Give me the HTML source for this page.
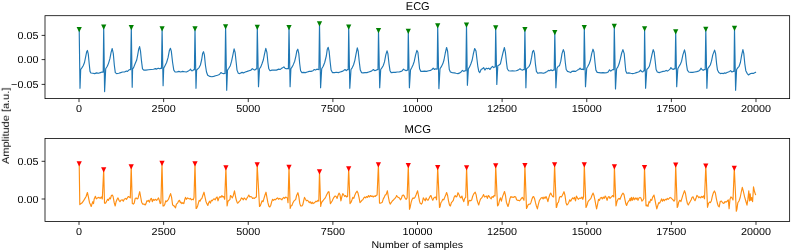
<!DOCTYPE html><html><head><meta charset="utf-8"><style>html,body{margin:0;padding:0;background:#fff;}svg{display:block;}text{font-family:"Liberation Sans",sans-serif;fill:#000;}</style></head><body>
<svg width="792" height="252" viewBox="0 0 792 252">
<rect width="792" height="252" fill="#fff"/>
<polyline fill="none" stroke="#1f77b4" stroke-width="1.15" stroke-linejoin="round" stroke-linecap="butt" points="79.20,29.60 80.00,88.30 80.70,69.50 82.00,67.60 83.20,65.70 84.50,62.50 85.80,56.10 86.70,51.70 87.40,50.40 88.30,54.20 89.20,63.80 90.00,71.40 90.90,73.00 92.80,73.30 94.70,73.60 96.60,72.90 98.50,73.30 100.40,72.60 102.00,72.00 103.20,72.20 103.70,27.10 104.60,91.60 105.70,68.80 107.30,66.30 108.60,63.10 109.90,58.70 111.10,52.30 112.20,48.50 113.30,53.60 114.30,65.00 115.30,72.60 116.60,73.60 118.80,73.30 120.70,72.60 122.60,72.00 124.50,72.00 126.40,71.10 127.50,71.40 128.80,70.10 130.10,69.50 130.60,69.60 131.30,27.60 132.20,87.30 132.60,69.00 133.60,67.60 135.10,63.80 136.70,60.00 137.70,54.90 138.70,49.20 139.60,46.60 140.50,51.10 141.50,61.20 142.50,68.80 143.80,70.10 145.90,70.10 148.50,69.80 151.00,69.50 153.50,69.20 155.40,68.60 156.70,69.10 158.20,68.20 159.90,68.80 160.90,68.20 161.50,68.40 162.10,28.90 163.10,85.70 163.70,68.20 165.00,65.70 166.60,62.50 168.10,57.40 169.40,50.40 170.40,48.30 171.30,51.10 172.60,62.50 173.80,70.10 175.10,72.00 176.90,72.00 178.80,71.40 180.70,72.00 182.60,71.40 184.50,71.70 186.40,72.00 188.30,71.10 189.60,70.10 190.50,69.10 191.50,70.70 192.80,70.70 193.80,69.50 194.40,69.80 195.00,28.90 196.00,88.30 196.60,70.10 197.80,68.80 199.10,67.60 200.40,65.00 201.60,60.00 202.60,53.60 203.50,51.70 204.40,54.90 205.40,65.00 206.50,72.00 207.70,75.20 209.90,76.40 211.80,76.70 213.70,76.40 215.60,75.80 217.50,75.20 219.40,74.50 220.90,72.60 222.20,73.30 223.40,73.60 225.00,73.40 225.60,26.80 226.70,90.30 227.50,70.10 228.80,68.20 230.30,65.70 231.60,61.20 232.90,54.90 234.10,48.80 235.10,52.30 236.20,62.50 237.00,70.10 238.30,73.30 239.60,73.60 240.90,72.90 242.10,72.40 243.40,72.90 245.30,72.00 247.20,71.40 249.10,70.70 251.00,70.10 252.30,68.60 253.50,69.50 254.80,70.10 256.10,68.80 256.80,69.00 257.30,27.30 258.50,86.70 259.50,68.80 260.80,66.90 262.00,63.80 263.30,60.00 264.60,53.60 265.80,48.30 266.90,52.30 267.90,62.50 268.80,68.80 270.00,70.70 271.90,70.10 273.80,70.10 276.40,70.10 278.80,69.10 280.10,69.50 281.30,68.60 282.60,67.80 283.90,66.90 284.90,68.20 286.20,68.80 287.40,68.60 288.40,68.80 289.00,27.60 290.10,86.70 290.90,68.80 292.10,66.90 293.40,64.40 294.70,61.20 295.90,56.10 296.80,51.10 297.80,49.20 298.80,53.60 299.70,63.80 300.60,70.70 301.90,72.60 303.50,72.40 305.40,72.60 307.30,72.00 309.20,71.40 311.10,71.40 313.00,70.70 314.30,69.50 315.60,70.10 316.90,69.10 318.10,69.50 318.90,69.60 319.50,23.90 320.60,87.80 321.70,68.80 323.20,66.30 324.70,62.50 326.30,56.00 327.30,49.20 328.20,47.30 329.10,51.10 330.10,61.20 331.10,70.10 332.40,72.60 334.50,72.60 336.40,72.30 338.30,72.60 340.20,72.00 342.10,71.40 343.80,70.40 345.00,69.50 346.30,70.70 347.60,69.50 348.20,69.70 348.70,27.10 349.80,88.30 351.00,69.50 352.30,67.60 353.50,65.00 354.80,60.60 356.10,53.60 357.30,47.90 358.20,51.10 359.20,61.20 360.30,70.10 361.50,72.60 363.00,72.90 365.00,72.60 366.90,72.60 368.80,72.00 370.70,71.40 372.20,70.40 373.40,69.50 374.70,70.70 376.40,70.10 377.50,69.50 378.00,69.60 378.50,30.60 379.70,87.80 380.70,69.50 382.00,67.60 383.20,65.70 384.50,61.90 385.80,54.90 387.00,50.80 387.90,53.60 389.00,63.80 390.00,70.70 391.20,72.60 393.40,72.40 395.30,72.40 397.20,72.00 399.10,72.00 401.00,71.40 402.30,70.70 403.50,69.10 404.80,70.10 406.10,70.70 407.30,70.10 407.80,70.20 408.30,31.30 409.40,87.80 410.50,70.10 411.80,67.60 413.00,65.00 414.30,61.20 415.60,54.90 416.90,50.40 417.90,52.30 418.80,61.20 419.60,68.80 420.90,71.40 422.60,71.40 424.50,71.10 426.40,71.40 428.80,70.70 430.70,70.40 432.00,69.50 433.20,68.20 434.50,69.50 435.80,68.80 436.70,69.10 437.20,69.20 437.70,25.90 438.90,88.60 440.00,68.80 441.20,66.90 442.80,63.80 444.00,60.00 445.30,53.00 446.60,47.50 447.60,51.10 448.50,61.20 449.30,69.50 450.40,72.00 452.30,72.60 454.20,72.90 456.10,73.30 458.00,73.60 459.90,72.90 461.10,72.00 462.40,70.40 463.70,71.40 465.00,70.70 465.90,70.80 466.50,25.10 467.40,85.30 468.40,68.80 469.60,66.90 470.90,63.80 472.20,60.00 473.40,53.60 474.70,48.50 476.00,51.10 476.90,58.70 477.80,66.30 478.80,71.40 479.80,72.60 481.10,69.50 482.40,68.80 483.60,67.60 484.90,70.10 486.20,68.20 487.40,68.80 488.70,68.20 490.00,69.50 491.20,67.60 492.50,66.30 493.80,67.60 494.70,66.90 495.20,67.00 495.70,27.90 496.80,84.50 497.80,65.70 499.10,65.00 500.40,63.80 501.60,58.70 502.90,53.00 504.40,47.50 505.40,52.30 506.50,62.50 507.30,68.80 508.60,70.70 510.50,71.00 512.40,70.70 514.30,71.00 516.20,70.70 518.10,70.10 520.00,68.80 521.30,69.80 522.60,70.10 523.40,69.50 524.30,69.60 524.90,29.60 525.90,87.80 526.50,68.80 527.80,67.60 529.10,66.30 530.30,63.80 531.60,57.40 532.60,51.70 533.60,50.40 534.50,53.60 535.40,63.80 536.40,71.40 537.70,73.30 539.60,72.90 541.50,72.90 543.40,73.30 545.30,72.60 547.20,71.40 548.50,70.40 549.70,70.70 551.00,69.80 552.30,70.70 553.50,70.10 554.20,70.20 554.80,32.60 555.90,87.80 557.00,68.20 558.20,66.30 559.50,65.70 560.80,61.20 562.00,53.60 563.30,49.60 564.30,52.30 565.30,62.50 566.20,69.50 567.50,71.40 569.40,72.00 570.70,72.60 571.90,71.40 573.80,71.10 575.70,71.40 577.50,70.10 578.80,69.50 580.10,68.20 581.10,69.50 582.40,69.10 583.20,69.50 583.80,69.60 584.30,27.60 585.50,86.70 586.70,68.20 587.90,66.30 589.20,63.80 590.50,60.00 591.70,53.60 593.00,49.20 594.00,52.30 595.00,62.50 595.90,70.10 597.20,72.40 599.10,72.60 601.00,72.90 602.90,72.60 604.80,72.90 606.70,72.60 608.20,72.00 609.50,69.80 610.80,71.10 612.00,70.10 613.00,69.50 613.80,69.60 614.30,26.30 615.50,89.00 616.60,68.80 617.90,66.90 619.10,63.80 620.40,58.70 621.70,53.00 622.90,49.60 624.20,53.60 625.10,63.80 625.80,71.00 626.90,73.30 628.80,72.90 630.70,73.30 632.60,73.60 634.50,73.30 636.40,72.60 638.30,72.00 639.60,71.40 640.50,70.10 641.50,71.40 642.80,72.00 643.80,70.70 644.20,70.80 644.60,28.90 645.60,88.30 646.80,69.50 648.10,68.20 649.30,66.30 650.60,61.20 651.90,54.90 653.20,49.60 654.20,52.30 655.20,61.20 656.10,69.50 657.30,72.00 659.20,72.60 661.10,72.00 663.00,71.40 665.00,71.10 666.20,70.40 667.50,71.10 668.80,70.10 670.00,69.10 670.90,67.60 671.90,68.80 673.20,69.50 674.20,68.80 675.10,69.00 675.70,31.80 676.70,86.70 677.80,68.80 679.10,66.30 680.30,64.40 681.60,61.20 682.90,54.90 684.50,49.80 685.40,53.60 686.40,63.80 687.40,70.10 688.70,72.00 690.90,72.40 692.80,72.40 694.70,72.00 696.60,71.60 698.50,71.10 699.70,70.40 701.00,68.20 701.90,69.50 703.20,70.40 704.20,69.50 705.20,69.60 705.80,29.40 706.90,88.30 707.70,68.80 709.00,66.90 710.30,65.00 711.50,61.20 712.80,54.90 714.60,50.10 715.60,53.60 716.60,63.80 717.50,70.10 718.80,72.60 720.40,73.60 721.90,73.30 723.30,73.60 724.50,72.90 725.80,73.30 727.10,72.40 728.30,72.00 729.60,71.40 730.60,70.70 731.90,72.00 733.20,71.40 734.00,71.50 734.50,28.40 735.60,90.30 736.60,69.50 737.90,67.60 739.10,66.30 740.40,62.50 741.70,54.90 742.90,49.60 743.80,53.60 744.80,63.80 745.80,70.70 747.10,73.30 748.40,74.90 749.90,73.90 751.80,73.30 753.70,73.30 755.20,72.60 756.00,72.00"/>
<polyline fill="none" stroke="#fe8e12" stroke-width="1.15" stroke-linejoin="round" stroke-linecap="butt" points="79.20,163.90 79.80,204.60 80.40,204.10 81.90,203.10 83.30,201.20 84.70,198.90 86.10,196.50 87.40,192.50 88.50,197.40 89.50,202.70 90.20,204.10 91.20,206.50 92.10,203.60 92.80,201.70 93.50,203.60 94.20,198.90 95.40,196.30 96.30,198.90 97.60,197.90 99.00,197.40 100.10,198.40 101.40,197.00 102.30,198.90 103.70,169.80 104.50,203.10 105.70,203.10 106.60,201.20 107.60,199.30 108.50,200.30 109.50,197.90 110.40,198.90 111.40,195.50 112.30,195.00 113.10,196.50 114.20,202.70 115.20,206.00 116.10,201.70 117.10,199.30 118.00,197.90 119.00,200.30 120.00,201.70 120.90,200.30 122.30,199.80 123.30,201.20 124.20,199.30 125.70,198.40 126.60,199.30 127.60,197.40 128.50,196.50 129.50,197.20 130.30,197.90 131.20,166.80 132.30,203.60 133.30,204.10 134.20,203.10 135.20,198.40 136.10,197.90 137.10,198.90 138.00,198.40 139.70,191.70 140.60,196.50 141.60,202.20 142.80,204.10 144.20,204.10 145.20,205.00 146.00,203.60 146.90,200.80 147.90,201.20 148.50,200.30 149.50,202.20 150.40,199.30 151.40,198.40 152.30,201.70 153.30,199.30 154.20,200.30 155.20,199.30 156.60,200.30 157.60,199.30 158.50,197.90 159.30,200.30 160.20,203.60 160.90,203.10 162.00,163.40 163.00,206.00 163.80,206.00 164.70,204.60 165.70,200.80 166.60,201.70 167.60,200.30 168.50,199.30 169.50,196.50 170.60,193.60 171.60,197.40 172.60,205.00 173.60,205.50 174.50,206.50 175.50,207.90 176.40,204.10 177.60,203.10 178.50,201.20 179.50,200.30 180.40,202.70 180.90,202.20 181.90,203.60 182.80,202.70 183.80,203.60 184.70,199.80 185.50,197.40 186.40,199.30 187.60,197.90 188.50,198.40 189.50,198.90 190.40,198.40 191.40,199.80 192.30,199.30 193.30,199.80 194.00,197.40 195.00,163.90 196.10,208.40 196.60,208.40 197.60,206.00 198.50,202.70 199.20,200.30 200.00,201.20 200.90,199.30 201.90,198.40 202.80,195.50 204.00,192.20 204.90,196.50 205.90,201.20 206.80,203.60 207.80,205.50 208.70,202.70 209.50,201.20 210.40,203.10 211.40,200.30 212.30,200.80 213.30,199.30 214.20,198.90 215.20,199.80 216.10,197.90 217.10,197.00 218.00,200.80 219.00,197.90 220.00,196.50 220.90,197.40 221.90,195.50 222.80,197.00 223.80,196.50 224.70,199.30 225.90,167.90 227.10,206.00 228.00,201.20 229.00,200.30 230.00,199.30 230.40,195.50 231.40,196.50 232.30,197.90 233.30,195.50 234.50,190.80 235.50,196.50 236.40,200.30 237.40,203.10 238.30,202.70 239.50,201.20 240.40,200.30 241.40,197.90 242.30,198.40 243.30,199.80 244.20,197.90 245.20,198.90 246.10,199.80 247.10,197.90 248.00,196.50 248.80,195.00 249.80,197.00 250.70,196.50 251.70,197.00 252.60,198.40 253.60,197.90 254.50,198.40 255.50,197.40 256.40,197.00 257.20,164.80 259.50,206.50 260.40,205.50 261.40,202.70 262.10,200.80 263.10,201.70 264.00,198.40 265.00,195.00 266.00,192.20 266.90,197.40 267.90,202.70 268.80,206.00 269.80,207.00 270.70,205.50 271.70,201.70 272.60,199.30 273.60,200.30 274.50,199.30 275.70,199.80 276.60,198.40 277.60,197.90 278.50,199.30 279.50,198.40 280.40,198.90 280.90,198.90 281.90,199.80 282.80,198.40 283.80,197.40 284.70,198.40 285.70,197.00 286.40,197.40 287.40,197.90 288.00,202.70 289.00,167.30 290.20,208.40 290.90,206.00 291.90,205.50 292.80,203.10 293.80,201.20 294.70,200.30 295.70,199.30 296.60,195.50 297.90,192.70 298.80,196.50 299.80,203.60 300.70,206.00 301.90,206.00 302.80,204.60 303.60,201.20 304.50,197.40 305.50,199.30 306.40,200.80 307.40,200.30 308.30,201.20 309.30,202.70 310.20,201.70 311.20,203.60 312.10,202.20 313.10,203.60 314.00,203.10 315.00,202.20 316.00,201.20 316.90,201.70 317.90,200.30 318.80,201.20 319.50,171.80 320.70,206.50 321.10,204.10 322.00,201.70 323.00,200.80 324.00,199.30 324.90,198.40 325.90,196.50 326.80,194.60 328.30,191.70 329.00,191.90 329.80,198.40 330.40,203.60 331.40,202.20 332.30,200.80 333.30,198.40 334.20,197.00 335.20,196.00 336.10,196.50 337.10,198.40 338.00,195.50 339.00,193.10 340.00,194.60 340.90,200.80 341.90,196.50 342.80,193.60 343.80,195.00 344.70,196.50 345.70,195.50 346.60,197.00 347.60,196.50 348.70,168.80 350.00,203.60 351.10,202.20 352.00,199.80 352.80,197.40 353.80,198.40 354.70,195.50 355.70,193.10 357.10,191.20 358.00,193.10 359.00,197.40 360.00,202.70 360.90,201.70 361.90,200.30 362.80,199.80 363.80,197.90 364.70,197.00 365.70,197.90 366.60,196.50 367.60,197.40 368.50,195.50 369.50,197.00 370.40,195.50 371.40,196.50 372.30,196.00 373.30,197.00 374.20,196.00 375.20,196.50 376.10,195.50 377.10,195.00 378.40,164.80 379.50,203.10 380.40,203.10 381.40,202.70 382.30,202.20 383.30,198.90 384.20,197.40 385.20,195.00 386.10,194.60 387.40,190.80 388.30,196.50 389.30,201.70 390.20,204.10 391.20,202.70 392.10,201.20 393.10,200.30 394.00,199.30 395.00,198.40 396.00,197.00 396.60,195.50 397.60,197.00 398.50,197.40 399.50,197.90 400.40,199.80 401.40,198.40 402.30,195.50 403.30,195.00 404.20,196.00 405.20,198.40 406.10,199.30 407.10,197.90 408.30,165.60 409.50,209.30 410.20,207.00 411.20,202.20 412.10,199.30 413.10,197.90 414.00,198.40 415.00,197.40 416.00,195.00 417.60,190.80 418.50,195.50 419.50,201.20 420.40,203.60 421.40,204.10 422.30,202.70 423.30,197.90 424.20,199.30 425.20,200.80 426.10,197.90 427.10,199.80 428.00,200.30 429.00,198.40 430.00,196.50 430.90,195.50 431.90,198.40 432.80,200.30 433.80,197.90 434.70,197.40 435.70,197.00 436.60,199.80 437.70,167.60 439.50,207.40 440.00,207.00 440.90,202.70 441.90,201.20 442.80,199.30 443.80,199.80 444.70,197.40 445.70,195.00 446.60,192.50 447.60,195.50 448.50,200.80 449.50,205.00 450.40,206.00 451.40,202.70 452.30,201.70 453.30,200.30 454.20,197.00 455.20,195.50 456.10,197.00 457.10,196.00 458.00,192.70 459.00,194.60 460.00,197.00 460.90,197.90 461.90,196.00 462.80,199.30 463.80,201.70 464.70,198.40 465.70,197.40 466.60,167.90 468.00,205.50 468.80,201.20 469.80,200.30 470.70,200.80 471.70,199.80 472.60,196.50 473.60,194.10 475.20,192.20 476.10,194.60 477.10,200.30 478.00,203.10 478.70,205.00 479.50,202.20 480.40,199.30 480.70,198.90 481.70,197.90 482.60,196.50 483.60,194.60 484.50,197.00 485.50,196.50 486.40,196.00 487.40,198.40 488.30,195.50 489.30,196.50 490.20,197.90 491.20,198.90 492.10,196.50 493.10,197.40 494.00,195.50 495.00,196.00 495.70,165.90 497.50,205.50 497.60,206.00 498.50,204.60 499.50,200.30 500.40,197.90 501.40,201.20 502.30,197.40 503.30,194.60 504.50,191.50 505.50,195.50 506.40,202.20 507.40,205.00 508.00,206.50 509.00,203.10 510.00,198.40 510.90,196.50 511.90,197.40 512.80,197.00 513.80,197.40 514.70,196.50 515.70,197.00 516.60,199.80 517.60,200.30 518.50,200.30 519.50,200.80 520.40,199.80 521.40,198.40 522.30,197.40 523.30,198.90 524.00,200.30 524.90,165.60 526.50,208.40 527.10,207.40 528.00,205.00 529.00,204.10 530.00,204.20 530.90,202.70 531.90,199.30 532.80,197.00 533.60,196.50 534.50,198.40 535.50,202.70 536.40,206.00 537.40,208.90 538.30,204.60 539.30,200.80 540.20,199.30 541.20,197.90 542.10,197.40 543.10,198.90 544.00,197.00 545.00,198.40 546.00,196.50 546.90,198.40 547.90,201.70 548.80,197.90 549.80,194.60 550.70,193.10 551.70,195.00 552.60,196.50 553.60,197.00 554.60,164.80 556.30,207.40 556.60,207.40 557.60,203.10 558.50,202.20 559.50,197.40 560.40,196.50 561.40,197.00 562.30,195.50 564.00,191.70 565.00,195.50 566.00,202.70 566.90,205.00 567.90,204.10 568.80,202.20 569.80,199.80 570.70,201.20 571.70,199.30 572.60,197.90 573.60,198.90 574.50,197.40 575.50,200.80 576.40,196.00 577.40,197.90 578.30,199.30 579.30,198.40 580.00,197.90 580.90,198.40 581.90,197.00 582.80,199.30 583.60,196.50 584.30,164.80 586.00,207.40 587.10,205.00 588.00,201.70 589.00,200.30 590.00,199.30 590.90,198.40 591.90,195.50 593.10,193.10 594.00,195.50 595.00,200.30 596.00,206.00 596.60,208.90 597.60,204.10 598.50,199.30 599.50,200.30 600.40,197.90 601.40,197.40 602.30,198.90 603.30,197.00 604.20,198.40 605.20,196.00 606.10,197.40 607.10,200.30 608.00,197.40 609.00,196.50 610.00,198.40 610.90,197.40 611.90,196.50 612.80,195.50 613.80,197.00 614.40,166.80 616.00,206.00 616.10,205.50 617.10,201.20 618.00,199.30 619.00,198.40 620.00,199.30 620.90,197.00 621.90,194.60 623.00,193.10 624.00,194.60 624.90,199.30 625.90,204.10 626.60,205.50 627.60,202.70 628.50,201.20 629.50,200.30 630.00,198.40 630.70,200.80 631.40,197.40 632.30,200.30 633.30,197.40 634.20,199.80 635.20,197.90 636.10,199.30 637.10,197.90 638.00,200.30 639.00,197.90 640.00,197.40 640.90,197.90 641.90,201.20 642.80,200.30 643.80,198.40 644.50,167.60 646.00,205.50 646.10,206.00 647.10,205.00 648.00,206.50 649.00,201.70 649.80,202.70 650.70,199.30 651.70,200.30 652.60,197.40 654.00,195.00 654.90,199.30 655.90,204.60 656.80,208.90 657.80,205.50 658.70,202.70 659.70,203.10 660.60,201.20 661.60,198.90 662.50,201.20 663.50,199.30 664.40,200.80 665.40,199.30 666.30,199.80 667.30,198.40 668.20,199.30 669.20,198.40 670.10,197.40 671.10,197.90 672.00,198.90 673.00,199.80 674.00,201.20 674.90,199.80 675.70,165.10 677.20,207.40 677.80,206.50 678.70,202.20 679.70,200.30 680.60,200.80 680.90,201.60 681.90,198.30 682.80,195.40 683.80,192.60 684.50,190.70 685.50,193.50 686.40,199.20 687.40,203.50 688.30,205.00 689.30,203.00 690.20,201.60 691.20,199.70 692.10,197.30 693.10,196.90 694.00,199.20 695.00,200.70 696.00,198.30 696.90,195.40 697.90,196.40 698.80,197.80 699.80,196.90 700.70,197.80 701.70,196.40 702.60,197.30 703.60,195.90 704.50,198.80 705.80,166.10 707.50,207.30 707.60,206.90 708.50,203.50 709.50,202.10 710.40,202.60 711.40,200.70 712.30,196.40 713.30,193.00 714.40,190.90 715.40,193.00 716.30,198.30 717.30,203.00 718.20,205.90 719.20,206.90 720.20,201.60 721.40,201.00 722.60,202.80 723.80,203.40 725.00,201.60 726.10,202.20 727.30,201.00 728.30,199.90 729.10,208.80 730.00,199.30 730.90,196.90 732.10,198.10 733.00,199.90 734.30,168.30 736.30,211.20 736.90,209.40 737.80,202.80 739.00,201.00 740.20,197.50 741.40,191.50 742.30,187.40 743.40,191.50 744.60,196.90 745.80,201.00 747.00,205.20 747.80,199.90 748.80,190.90 749.50,201.00 750.20,193.90 750.90,200.50 751.70,197.50 752.60,201.60 753.50,186.80 754.50,191.50 755.70,195.10"/>
<polygon fill="#008000" points="76.60,27.00 81.80,27.00 79.20,32.20"/>
<polygon fill="#008000" points="101.10,24.50 106.30,24.50 103.70,29.70"/>
<polygon fill="#008000" points="128.70,25.00 133.90,25.00 131.30,30.20"/>
<polygon fill="#008000" points="159.50,26.30 164.70,26.30 162.10,31.50"/>
<polygon fill="#008000" points="192.40,26.30 197.60,26.30 195.00,31.50"/>
<polygon fill="#008000" points="223.00,24.20 228.20,24.20 225.60,29.40"/>
<polygon fill="#008000" points="254.70,24.70 259.90,24.70 257.30,29.90"/>
<polygon fill="#008000" points="286.40,25.00 291.60,25.00 289.00,30.20"/>
<polygon fill="#008000" points="316.90,21.30 322.10,21.30 319.50,26.50"/>
<polygon fill="#008000" points="346.10,24.50 351.30,24.50 348.70,29.70"/>
<polygon fill="#008000" points="375.90,28.00 381.10,28.00 378.50,33.20"/>
<polygon fill="#008000" points="405.70,28.70 410.90,28.70 408.30,33.90"/>
<polygon fill="#008000" points="435.10,23.30 440.30,23.30 437.70,28.50"/>
<polygon fill="#008000" points="463.90,22.50 469.10,22.50 466.50,27.70"/>
<polygon fill="#008000" points="493.10,25.30 498.30,25.30 495.70,30.50"/>
<polygon fill="#008000" points="522.30,27.00 527.50,27.00 524.90,32.20"/>
<polygon fill="#008000" points="552.20,30.00 557.40,30.00 554.80,35.20"/>
<polygon fill="#008000" points="581.70,25.00 586.90,25.00 584.30,30.20"/>
<polygon fill="#008000" points="611.70,23.70 616.90,23.70 614.30,28.90"/>
<polygon fill="#008000" points="642.00,26.30 647.20,26.30 644.60,31.50"/>
<polygon fill="#008000" points="673.10,29.20 678.30,29.20 675.70,34.40"/>
<polygon fill="#008000" points="703.20,26.80 708.40,26.80 705.80,32.00"/>
<polygon fill="#008000" points="731.90,25.80 737.10,25.80 734.50,31.00"/>
<polygon fill="#ff0000" points="76.60,161.30 81.80,161.30 79.20,166.50"/>
<polygon fill="#ff0000" points="101.10,167.20 106.30,167.20 103.70,172.40"/>
<polygon fill="#ff0000" points="128.60,164.20 133.80,164.20 131.20,169.40"/>
<polygon fill="#ff0000" points="159.40,160.80 164.60,160.80 162.00,166.00"/>
<polygon fill="#ff0000" points="192.40,161.30 197.60,161.30 195.00,166.50"/>
<polygon fill="#ff0000" points="223.30,165.30 228.50,165.30 225.90,170.50"/>
<polygon fill="#ff0000" points="254.60,162.20 259.80,162.20 257.20,167.40"/>
<polygon fill="#ff0000" points="286.40,164.70 291.60,164.70 289.00,169.90"/>
<polygon fill="#ff0000" points="316.90,169.20 322.10,169.20 319.50,174.40"/>
<polygon fill="#ff0000" points="346.10,166.20 351.30,166.20 348.70,171.40"/>
<polygon fill="#ff0000" points="375.80,162.20 381.00,162.20 378.40,167.40"/>
<polygon fill="#ff0000" points="405.70,163.00 410.90,163.00 408.30,168.20"/>
<polygon fill="#ff0000" points="435.10,165.00 440.30,165.00 437.70,170.20"/>
<polygon fill="#ff0000" points="464.00,165.30 469.20,165.30 466.60,170.50"/>
<polygon fill="#ff0000" points="493.10,163.30 498.30,163.30 495.70,168.50"/>
<polygon fill="#ff0000" points="522.30,163.00 527.50,163.00 524.90,168.20"/>
<polygon fill="#ff0000" points="552.00,162.20 557.20,162.20 554.60,167.40"/>
<polygon fill="#ff0000" points="581.70,162.20 586.90,162.20 584.30,167.40"/>
<polygon fill="#ff0000" points="611.80,164.20 617.00,164.20 614.40,169.40"/>
<polygon fill="#ff0000" points="641.90,165.00 647.10,165.00 644.50,170.20"/>
<polygon fill="#ff0000" points="673.10,162.50 678.30,162.50 675.70,167.70"/>
<polygon fill="#ff0000" points="703.20,163.50 708.40,163.50 705.80,168.70"/>
<polygon fill="#ff0000" points="731.70,165.70 736.90,165.70 734.30,170.90"/>
<g opacity="0.999">
<rect x="45.0" y="15.7" width="744.65" height="82.89999999999999" fill="none" stroke="#000" stroke-width="0.8"/>
<line x1="79.01" y1="98.6" x2="79.01" y2="102.1" stroke="#000" stroke-width="0.8"/>
<text font-family="Liberation Sans" text-rendering="geometricPrecision" transform="translate(79.01,112.20) scale(1.06,1)" font-size="10.2" text-anchor="middle">0</text>
<line x1="163.63" y1="98.6" x2="163.63" y2="102.1" stroke="#000" stroke-width="0.8"/>
<text font-family="Liberation Sans" text-rendering="geometricPrecision" transform="translate(163.63,112.20) scale(1.06,1)" font-size="10.2" text-anchor="middle">2500</text>
<line x1="248.25" y1="98.6" x2="248.25" y2="102.1" stroke="#000" stroke-width="0.8"/>
<text font-family="Liberation Sans" text-rendering="geometricPrecision" transform="translate(248.25,112.20) scale(1.06,1)" font-size="10.2" text-anchor="middle">5000</text>
<line x1="332.88" y1="98.6" x2="332.88" y2="102.1" stroke="#000" stroke-width="0.8"/>
<text font-family="Liberation Sans" text-rendering="geometricPrecision" transform="translate(332.88,112.20) scale(1.06,1)" font-size="10.2" text-anchor="middle">7500</text>
<line x1="417.50" y1="98.6" x2="417.50" y2="102.1" stroke="#000" stroke-width="0.8"/>
<text font-family="Liberation Sans" text-rendering="geometricPrecision" transform="translate(417.50,112.20) scale(1.06,1)" font-size="10.2" text-anchor="middle">10000</text>
<line x1="502.12" y1="98.6" x2="502.12" y2="102.1" stroke="#000" stroke-width="0.8"/>
<text font-family="Liberation Sans" text-rendering="geometricPrecision" transform="translate(502.12,112.20) scale(1.06,1)" font-size="10.2" text-anchor="middle">12500</text>
<line x1="586.75" y1="98.6" x2="586.75" y2="102.1" stroke="#000" stroke-width="0.8"/>
<text font-family="Liberation Sans" text-rendering="geometricPrecision" transform="translate(586.75,112.20) scale(1.06,1)" font-size="10.2" text-anchor="middle">15000</text>
<line x1="671.37" y1="98.6" x2="671.37" y2="102.1" stroke="#000" stroke-width="0.8"/>
<text font-family="Liberation Sans" text-rendering="geometricPrecision" transform="translate(671.37,112.20) scale(1.06,1)" font-size="10.2" text-anchor="middle">17500</text>
<line x1="755.99" y1="98.6" x2="755.99" y2="102.1" stroke="#000" stroke-width="0.8"/>
<text font-family="Liberation Sans" text-rendering="geometricPrecision" transform="translate(755.99,112.20) scale(1.06,1)" font-size="10.2" text-anchor="middle">20000</text>
<line x1="41.6" y1="35.4" x2="45.0" y2="35.4" stroke="#000" stroke-width="0.8"/>
<text font-family="Liberation Sans" text-rendering="geometricPrecision" transform="translate(38.45,38.95) scale(1.06,1)" font-size="10.2" text-anchor="end">0.05</text>
<line x1="41.6" y1="59.6" x2="45.0" y2="59.6" stroke="#000" stroke-width="0.8"/>
<text font-family="Liberation Sans" text-rendering="geometricPrecision" transform="translate(38.45,63.15) scale(1.06,1)" font-size="10.2" text-anchor="end">0.00</text>
<line x1="41.6" y1="84.4" x2="45.0" y2="84.4" stroke="#000" stroke-width="0.8"/>
<text font-family="Liberation Sans" text-rendering="geometricPrecision" transform="translate(38.45,87.95) scale(1.06,1)" font-size="10.2" text-anchor="end">−0.05</text>
<rect x="45.0" y="138.5" width="744.65" height="82.9" fill="none" stroke="#000" stroke-width="0.8"/>
<line x1="79.01" y1="221.4" x2="79.01" y2="224.9" stroke="#000" stroke-width="0.8"/>
<text font-family="Liberation Sans" text-rendering="geometricPrecision" transform="translate(79.01,235.00) scale(1.06,1)" font-size="10.2" text-anchor="middle">0</text>
<line x1="163.63" y1="221.4" x2="163.63" y2="224.9" stroke="#000" stroke-width="0.8"/>
<text font-family="Liberation Sans" text-rendering="geometricPrecision" transform="translate(163.63,235.00) scale(1.06,1)" font-size="10.2" text-anchor="middle">2500</text>
<line x1="248.25" y1="221.4" x2="248.25" y2="224.9" stroke="#000" stroke-width="0.8"/>
<text font-family="Liberation Sans" text-rendering="geometricPrecision" transform="translate(248.25,235.00) scale(1.06,1)" font-size="10.2" text-anchor="middle">5000</text>
<line x1="332.88" y1="221.4" x2="332.88" y2="224.9" stroke="#000" stroke-width="0.8"/>
<text font-family="Liberation Sans" text-rendering="geometricPrecision" transform="translate(332.88,235.00) scale(1.06,1)" font-size="10.2" text-anchor="middle">7500</text>
<line x1="417.50" y1="221.4" x2="417.50" y2="224.9" stroke="#000" stroke-width="0.8"/>
<text font-family="Liberation Sans" text-rendering="geometricPrecision" transform="translate(417.50,235.00) scale(1.06,1)" font-size="10.2" text-anchor="middle">10000</text>
<line x1="502.12" y1="221.4" x2="502.12" y2="224.9" stroke="#000" stroke-width="0.8"/>
<text font-family="Liberation Sans" text-rendering="geometricPrecision" transform="translate(502.12,235.00) scale(1.06,1)" font-size="10.2" text-anchor="middle">12500</text>
<line x1="586.75" y1="221.4" x2="586.75" y2="224.9" stroke="#000" stroke-width="0.8"/>
<text font-family="Liberation Sans" text-rendering="geometricPrecision" transform="translate(586.75,235.00) scale(1.06,1)" font-size="10.2" text-anchor="middle">15000</text>
<line x1="671.37" y1="221.4" x2="671.37" y2="224.9" stroke="#000" stroke-width="0.8"/>
<text font-family="Liberation Sans" text-rendering="geometricPrecision" transform="translate(671.37,235.00) scale(1.06,1)" font-size="10.2" text-anchor="middle">17500</text>
<line x1="755.99" y1="221.4" x2="755.99" y2="224.9" stroke="#000" stroke-width="0.8"/>
<text font-family="Liberation Sans" text-rendering="geometricPrecision" transform="translate(755.99,235.00) scale(1.06,1)" font-size="10.2" text-anchor="middle">20000</text>
<line x1="41.6" y1="161.3" x2="45.0" y2="161.3" stroke="#000" stroke-width="0.8"/>
<text font-family="Liberation Sans" text-rendering="geometricPrecision" transform="translate(38.45,164.85) scale(1.06,1)" font-size="10.2" text-anchor="end">0.05</text>
<line x1="41.6" y1="199.0" x2="45.0" y2="199.0" stroke="#000" stroke-width="0.8"/>
<text font-family="Liberation Sans" text-rendering="geometricPrecision" transform="translate(38.45,202.55) scale(1.06,1)" font-size="10.2" text-anchor="end">0.00</text>
<text font-family="Liberation Sans" text-rendering="geometricPrecision" transform="translate(405.8,9.95) scale(0.973,1)" font-size="11.3">ECG</text>
<text font-family="Liberation Sans" text-rendering="geometricPrecision" transform="translate(404.57,132.69) scale(1.0,1)" font-size="11.3">MCG</text>
<text font-family="Liberation Sans" text-rendering="geometricPrecision" transform="translate(371.43,247.8) scale(1.079,1)" font-size="9.8">Number of samples</text>
<text font-family="Liberation Sans" text-rendering="geometricPrecision" transform="translate(8.9,163.9) rotate(-90) scale(1.098,1)" font-size="10">Amplitude [a.u.]</text>
</g>
</svg></body></html>
